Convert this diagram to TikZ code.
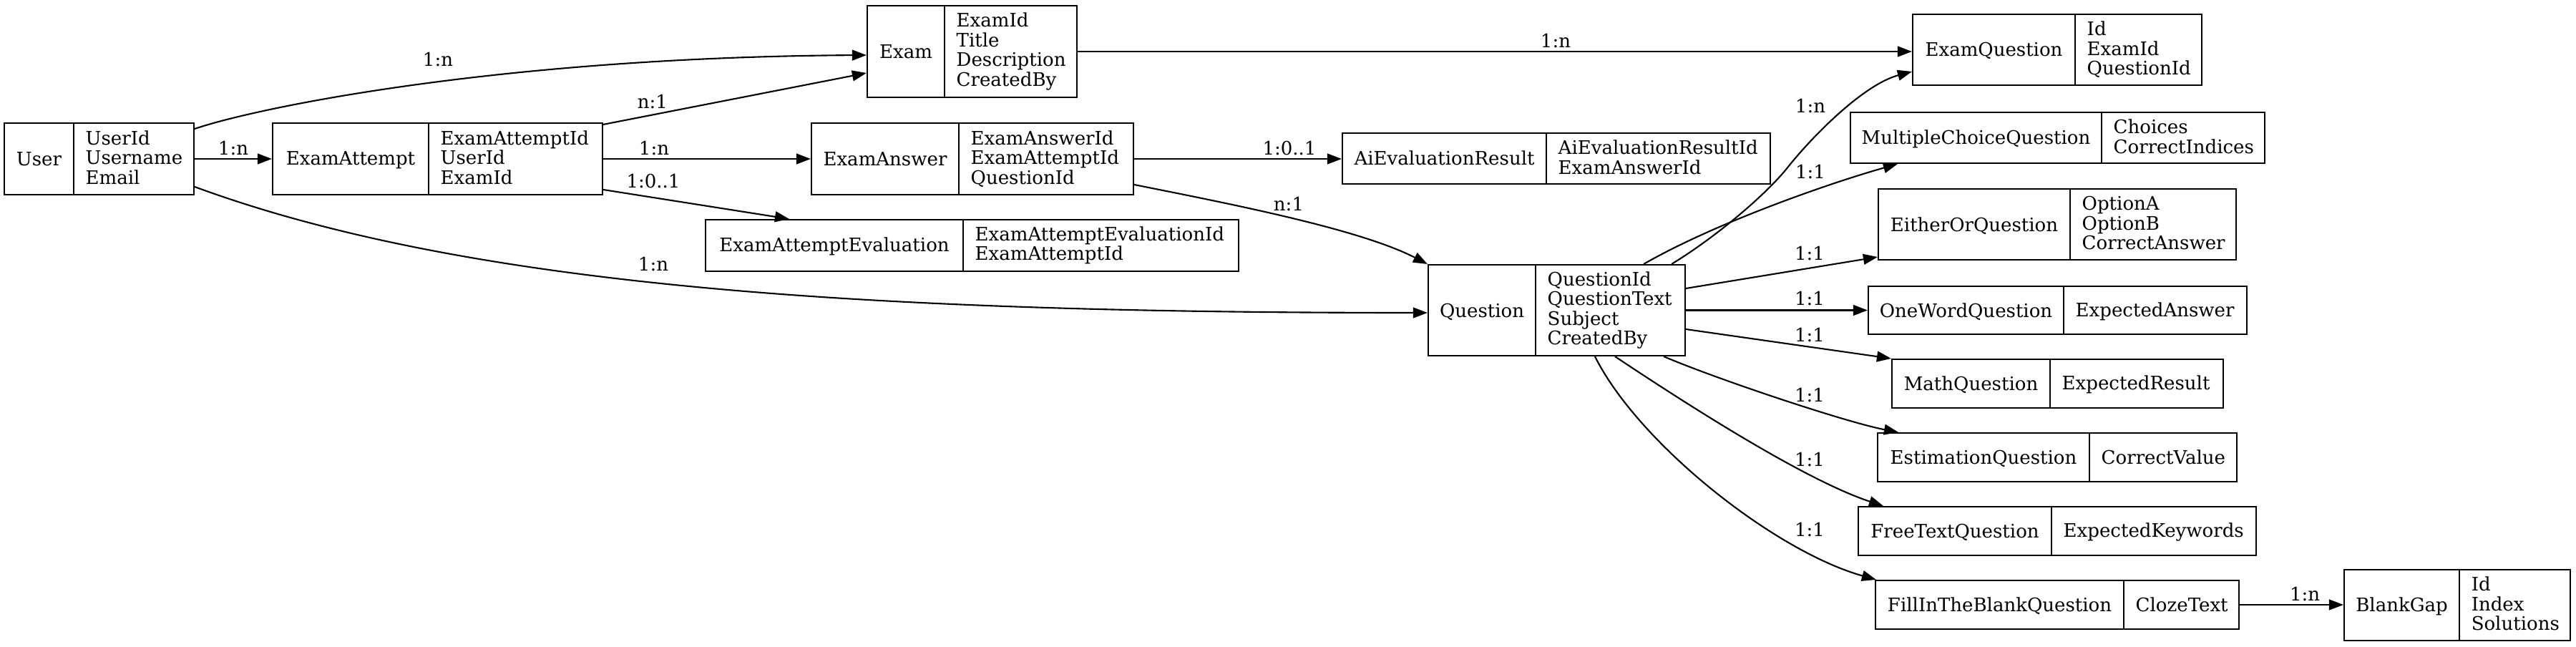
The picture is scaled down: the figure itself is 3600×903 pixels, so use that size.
\documentclass[tikz,border=0pt]{standalone}
\usepackage{fontspec}
\setmainfont{DejaVu Serif}
\usetikzlibrary{arrows.meta,calc,fit}
\newcommand\erst{\rule[-1.225pt]{0pt}{7.85pt}}
\tikzset{
  rbox/.style={draw, line width=0.6pt, inner sep=0pt},
  rtext/.style={font=\fontsize{7.4pt}{7.85pt}\selectfont, inner sep=0pt, align=left,
    execute at begin node=\erst, execute at end node=\erst},
  elabel/.style={font=\fontsize{7.4pt}{7.85pt}\selectfont, inner sep=0pt,
    execute at begin node=\erst},
  rel/.style={draw, line width=0.6pt, -{Triangle[length=5.7pt,width=4.2pt]}},
}
% name, x1, xdiv, x2, y1, y2, label, fields
\newcommand\erec[8]{%
  \node[rbox, fit={(#2,#5) (#4,#6)}] (#1) {};
  \draw[line width=0.6pt] (#3,#5) -- (#3,#6);
  \node[rtext, anchor=center] (#1-l) at ({(#2+#3)/2},{(#5+#6)/2}) {#7};
  \node[rtext, anchor=west] (#1-f) at ({#3+16},{(#5+#6)/2}) {#8};
}
\begin{document}
\begin{tikzpicture}[x=0.01cm, y=-0.01cm]
\fill[white] (0,0) rectangle (3600,903);
\useasboundingbox (0,0) rectangle (3600,903);

\erec{user}{6}{103}{271}{172}{272}{User}{UserId\\Username\\Email}
\erec{attempt}{381}{599}{842}{172}{272}{ExamAttempt}{ExamAttemptId\\UserId\\ExamId}
\erec{exam}{1212}{1320}{1505}{8}{136}{Exam}{ExamId\\Title\\Description\\CreatedBy}
\erec{answer}{1134}{1340}{1584}{172}{272}{ExamAnswer}{ExamAnswerId\\ExamAttemptId\\QuestionId}
\erec{eae}{986}{1346}{1731}{307}{379}{ExamAttemptEvaluation}{ExamAttemptEvaluationId\\ExamAttemptId}
\erec{aieval}{1876}{2161}{2474}{186}{257}{AiEvaluationResult}{AiEvaluationResultId\\ExamAnswerId}
\erec{question}{1996}{2146}{2355}{370}{497}{Question}{QuestionId\\QuestionText\\Subject\\CreatedBy}
\erec{examq}{2673}{2900}{3077}{20}{119}{ExamQuestion}{Id\\ExamId\\QuestionId}
\erec{mcq}{2586}{2937}{3165}{157}{228}{MultipleChoiceQuestion}{Choices\\CorrectIndices}
\erec{eor}{2625}{2893}{3125}{264}{363}{EitherOrQuestion}{OptionA\\OptionB\\CorrectAnswer}
\erec{oneword}{2611}{2884}{3140}{400}{467}{OneWordQuestion}{ExpectedAnswer}
\erec{math}{2644}{2865}{3107}{502}{570}{MathQuestion}{ExpectedResult}
\erec{est}{2624}{2920}{3126}{605}{673}{EstimationQuestion}{CorrectValue}
\erec{free}{2597}{2867}{3153}{708}{776}{FreeTextQuestion}{ExpectedKeywords}
\erec{fill}{2621}{2968}{3129}{811}{879}{FillInTheBlankQuestion}{ClozeText}
\erec{blank}{3276}{3437}{3592}{796}{895}{BlankGap}{Id\\Index\\Solutions}

% connectors
\draw[rel] ($(user.east)+(0,-42)$) .. controls (360,150) and (700,80) .. ($(exam.west)+(0,5)$);
\draw[rel] (user.east) -- (attempt.west);
\draw[rel] ($(user.east)+(0,39)$) .. controls (650,400) and (1200,437) .. ($(question.west)+(0,3.5)$);
\draw[rel] ($(attempt.north east)+(0,3)$) -- ($(exam.west)+(0,30)$);
\draw[rel] (attempt.east) -- (answer.west);
\draw[rel] ($(attempt.east)+(0,43)$) -- ($(eae.north west)+(118,0)$);
\draw[rel] (exam.east) -- (exam.east -| examq.west);
\draw[rel] (answer.east) -- (answer.east -| aieval.west);
\draw[rel] ($(answer.east)+(0,36)$) .. controls (1720,285) and (1900,320) .. (question.north west);
\draw[rel] ($(question.north east)+(-20,0)$) .. controls (2400,330) and (2470,270) .. (2499,233)
   .. controls (2535,188) and (2605,118) .. ($(examq.west)+(0,30.5)$);
\draw[rel] ($(question.north east)+(-59,0)$) .. controls (2400,310) and (2560,255) .. ($(mcq.south west)+(67,0)$);
\draw[rel] ($(question.east)+(0,-30.5)$) -- ($(eor.south west)+(0,-5)$);
\draw[rel] (question.east) -- (question.east -| oneword.west);
\draw[rel] ($(question.east)+(0,26.5)$) -- (math.north west);
\draw[rel] ($(question.south east)+(-31,0)$) .. controls (2400,530) and (2580,590) .. ($(est.north west)+(30,0)$);
\draw[rel] ($(question.south west)+(262,0)$) .. controls (2350,560) and (2520,670) .. ($(free.north west)+(36,0)$);
\draw[rel] ($(question.south west)+(234,0)$) .. controls (2290,620) and (2480,770) .. ($(fill.north west)+(2,0)$);
\draw[rel] (fill.east) -- (fill.east -| blank.west);

% connector labels
\node[elabel] (l1) at (612,83) {1:n};
\node[elabel] (l2) at (326,207) {1:n};
\node[elabel] (l3) at (913,369) {1:n};
\node[elabel] (l4) at (912,142) {n:1};
\node[elabel] (l5) at (914,207) {1:n};
\node[elabel] (l6) at (913,253) {1:0..1};
\node[elabel] (l7) at (2174,57) {1:n};
\node[elabel] (l8) at (1802,207) {1:0..1};
\node[elabel] (l9) at (1801,285) {n:1};
\node[elabel] (l10) at (2530,148) {1:n};
\node[elabel] (l11) at (2530,240) {1:1};
\node[elabel] (l12) at (2529,354) {1:1};
\node[elabel] (l13) at (2529,417) {1:1};
\node[elabel] (l14) at (2529,468) {1:1};
\node[elabel] (l15) at (2529,552) {1:1};
\node[elabel] (l16) at (2529,642) {1:1};
\node[elabel] (l17) at (2529,740) {1:1};
\node[elabel] (l18) at (3221,830) {1:n};
\end{tikzpicture}
\end{document}
